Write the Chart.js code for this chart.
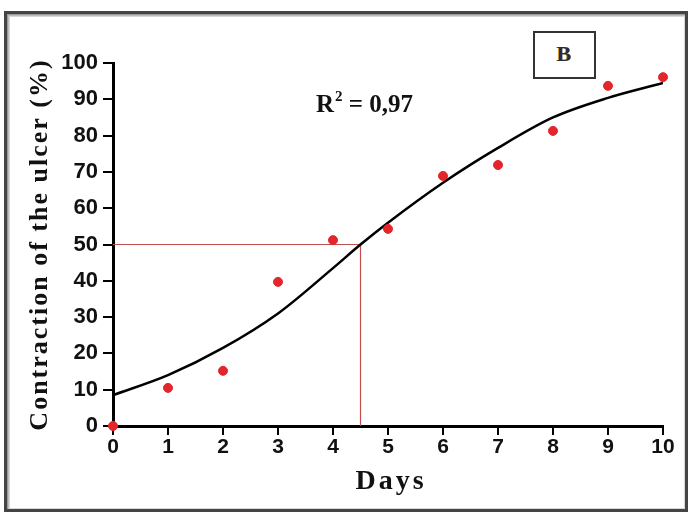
<!DOCTYPE html>
<html>
<head>
<meta charset="utf-8">
<script src="https://cdn.jsdelivr.net/npm/chart.js@4/dist/chart.umd.min.js"></script>
<style>
  html, body { margin: 0; padding: 0; background: #fff; }
  #wrap { width: 691px; height: 516px; }
</style>
</head>
<body>
<div id="wrap"><canvas id="chart" width="691" height="516"></canvas></div>
<script>
// observed contraction per day
const days = [0, 1, 2, 3, 4, 5, 6, 7, 8, 9, 10];
const contraction = [0, 10.5, 15.2, 39.7, 51.2, 54.3, 68.9, 71.9, 81.3, 93.7, 96.1];

// fitted curve
const fitDays = [0, 1, 2, 3, 4, 4.5, 5, 6, 7, 8, 9, 10];
const fitValues = [8.5, 14, 21.5, 31, 43.5, 50, 56, 67, 76.6, 85, 90.4, 94.5];

// 50% reference lines
const refX = [0, 4.5, 4.5];
const refY = [50, 50, 0];

const xTitle = "Days";
const yTitle = "Contraction of the ulcer (%)";

const toXY = (xs, ys) => xs.map((x, i) => ({ x: x, y: ys[i] }));

const decor = {
  id: "decor",
  beforeDraw(chart) {
    const ctx = chart.ctx;
    ctx.save();
    ctx.fillStyle = "#fff";
    ctx.fillRect(0, 0, chart.width, chart.height);
    // frame with soft shadow
    const grads = ["#d8d8d8", "#bdbdbd", "#9a9a9a"];
    grads.forEach((c, i) => {
      ctx.strokeStyle = c;
      ctx.lineWidth = 1;
      ctx.strokeRect(9.5 - i, 16.5 - i, 675 + 2 * i, 492 + 2 * i);
    });
    ctx.strokeStyle = "#444";
    ctx.lineWidth = 3;
    ctx.strokeRect(5.5, 12.5, 681, 498);
    ctx.restore();
  },
  afterDraw(chart) {
    const ctx = chart.ctx;
    const area = chart.chartArea;
    ctx.save();
    ctx.fillStyle = "#111";
    // axis titles
    ctx.font = "bold 28px 'Liberation Serif'";
    ctx.letterSpacing = "3px";
    ctx.textAlign = "center";
    ctx.textBaseline = "middle";
    ctx.fillText(xTitle, (area.left + area.right) / 2 + 3, 482);
    ctx.save();
    ctx.translate(40, (area.top + area.bottom) / 2);
    ctx.rotate(-Math.PI / 2);
    ctx.font = "bold 26px 'Liberation Serif'";
    ctx.letterSpacing = "2px";
    ctx.fillText(yTitle, 0, 0);
    ctx.restore();
    ctx.letterSpacing = "0px";
    // box B
    ctx.strokeStyle = "#333";
    ctx.lineWidth = 2;
    ctx.strokeRect(534, 32, 61, 46);
    ctx.font = "bold 22px 'Liberation Serif'";
    ctx.fillStyle = "#d99a30";
    ctx.fillText("B", 563, 55);
    ctx.fillStyle = "#1f2d4a";
    ctx.fillText("B", 564, 55);
    // R^2 label
    ctx.textAlign = "left";
    ctx.textBaseline = "alphabetic";
    ctx.fillStyle = "#111";
    ctx.font = "bold 25px 'Liberation Serif'";
    let x = 316;
    ctx.fillText("R", x, 112);
    x += ctx.measureText("R").width;
    ctx.font = "bold 15px 'Liberation Serif'";
    ctx.fillText("2", x + 1, 101);
    x += ctx.measureText("2").width + 1;
    ctx.font = "bold 25px 'Liberation Serif'";
    ctx.fillText(" = 0,97", x, 112);
    ctx.restore();
  }
};

new Chart(document.getElementById("chart"), {
  type: "line",
  data: {
    datasets: [
      {
        label: "data",
        type: "scatter",
        data: toXY(days, contraction),
        backgroundColor: "#e3262b",
        borderColor: "#e3262b",
        pointRadius: 4.5,
        clip: false,
        order: 0
      },
      {
        label: "fit",
        data: toXY(fitDays, fitValues),
        borderColor: "#000",
        borderWidth: 2.5,
        pointRadius: 0,
        cubicInterpolationMode: "monotone",
        fill: false,
        order: 1
      },
      {
        label: "ref",
        data: toXY(refX, refY),
        borderColor: "#c0504d",
        borderWidth: 1.2,
        pointRadius: 0,
        tension: 0,
        fill: false,
        order: 2
      }
    ]
  },
  options: {
    responsive: false,
    animation: false,
    layout: { padding: { left: 0, top: 63, right: 28, bottom: 0 } },
    plugins: { legend: { display: false }, tooltip: { enabled: false } },
    scales: {
      x: {
        type: "linear",
        min: 0,
        max: 10,
        afterFit: (s) => { s.height = 90; },
        ticks: {
          stepSize: 1,
          color: "#111",
          padding: 0,
          font: { family: "'Liberation Sans'", size: 21, weight: "bold" }
        },
        grid: { drawOnChartArea: false, drawTicks: true, tickLength: 9, color: "#000", lineWidth: 2 },
        border: { color: "#000", width: 3 }
      },
      y: {
        min: 0,
        max: 100,
        afterFit: (s) => { s.width = 113; },
        ticks: {
          stepSize: 10,
          color: "#111",
          padding: 5,
          font: { family: "'Liberation Sans'", size: 22, weight: "bold" }
        },
        grid: { drawOnChartArea: false, drawTicks: true, tickLength: 10, color: "#000", lineWidth: 2 },
        border: { color: "#000", width: 3 }
      }
    }
  },
  plugins: [decor]
});
</script>
</body>
</html>
